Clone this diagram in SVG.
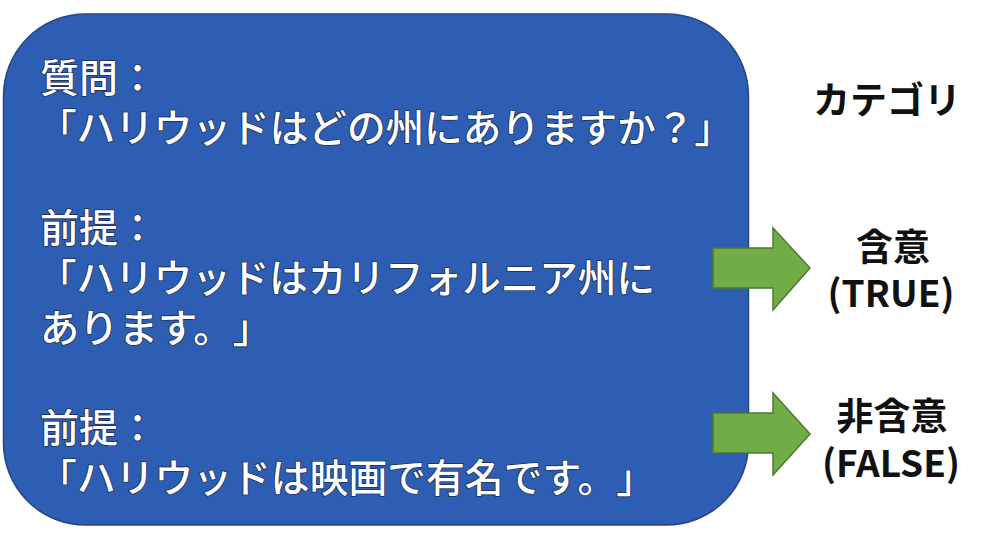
<svg xmlns="http://www.w3.org/2000/svg" width="986" height="538" viewBox="0 0 986 538">
<style>
.box{fill:#2E5EB3;stroke:#27477F;stroke-width:1.5}
.bt{font-family:"Noto Sans CJK JP","Noto Sans",sans-serif;font-size:39px;font-weight:500;fill:#ffffff;stroke:#1d2f55;stroke-width:1.6;paint-order:stroke;text-spacing-trim:space-all;}
.lab{font-family:"Noto Sans CJK JP","Noto Sans",sans-serif;font-size:37px;font-weight:700;fill:#111111;text-anchor:middle}
.arr{fill:#70AD47;stroke:#4E7A30;stroke-width:1.5}
</style>
<rect width="986" height="538" fill="#ffffff"/>
<g id="box">
<rect class="box" x="3.5" y="14" width="745" height="511" rx="82" ry="82"/>
<text class="bt" x="40" y="92">質問：</text>
<text class="bt" x="38" y="142" textLength="695" lengthAdjust="spacingAndGlyphs">「ハリウッドはどの州にありますか？」</text>
<text class="bt" x="40" y="242">前提：</text>
<text class="bt" x="38" y="292" textLength="617" lengthAdjust="spacingAndGlyphs">「ハリウッドはカリフォルニア州に</text>
<text class="bt" x="40" y="342" textLength="232" lengthAdjust="spacingAndGlyphs">あります。」</text>
<text class="bt" x="40" y="442">前提：</text>
<text class="bt" x="38" y="492" textLength="617" lengthAdjust="spacingAndGlyphs">「ハリウッドは映画で有名です。」</text>
</g>
<g id="category">
<text class="lab" x="887" y="114">カテゴリ</text>
</g>
<g id="entail">
<text class="lab" x="893" y="261">含意</text>
<text class="lab" x="891" y="307">(TRUE)</text>
</g>
<g id="nonentail">
<text class="lab" x="892" y="430">非含意</text>
<text class="lab" x="891" y="477">(FALSE)</text>
</g>
<g id="connectors">
<path class="arr" d="M713,248 H773 V228 L810,268 L773,310 V288 H713 Z"/>
<path class="arr" d="M713,413 H773 V393 L810,434 L773,475 V453 H713 Z"/>
</g>
</svg>
